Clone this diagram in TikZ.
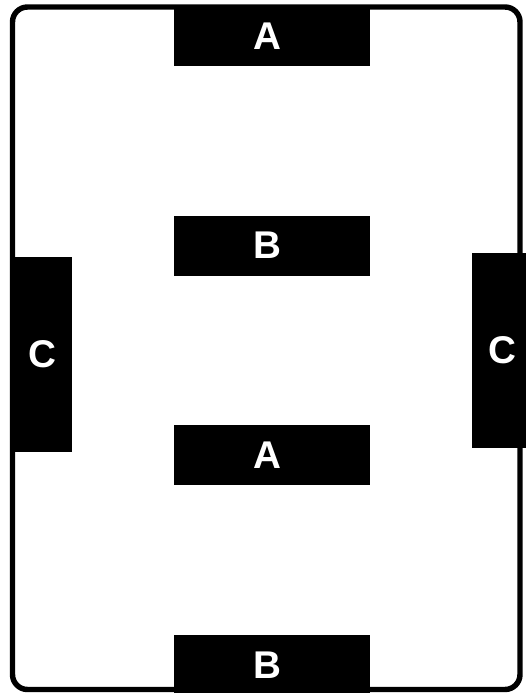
\documentclass[tikz,border=0pt]{standalone}
\usepackage{fontspec}
\setsansfont{Liberation Sans}
\usetikzlibrary{positioning}

\begin{document}
\begin{tikzpicture}[
    x=0.02cm, y=-0.02cm,
    frame/.style={draw, line width=3.1pt, rounded corners=0.3cm},
    zone/.style={fill=black, text=white, inner sep=0pt, font=\sffamily\bfseries\fontsize{22}{22}\selectfont},
    wide/.style={zone, minimum width=3.92cm, minimum height=1.2cm, execute at end node=\hspace{0.2cm}},
    tall/.style={zone, minimum width=1.2cm, minimum height=3.9cm}
  ]
    \useasboundingbox (0,0) rectangle (525,693);
    \draw[frame] (12.5,7) rectangle (520,689.5);
    \node[wide] (atop) at (272,36) {A};
    \node[wide, below=2.98cm of atop] (bup) {B};
    \node[wide, below=2.98cm of bup] (amid) {A};
    \node[wide, below=2.98cm of amid] (bbot) {B};
    \node[tall] (cleft) at (42,354.5) {C};
    \node[tall] (cright) at (502,350.5) {C};
  \end{tikzpicture}
\end{document}
